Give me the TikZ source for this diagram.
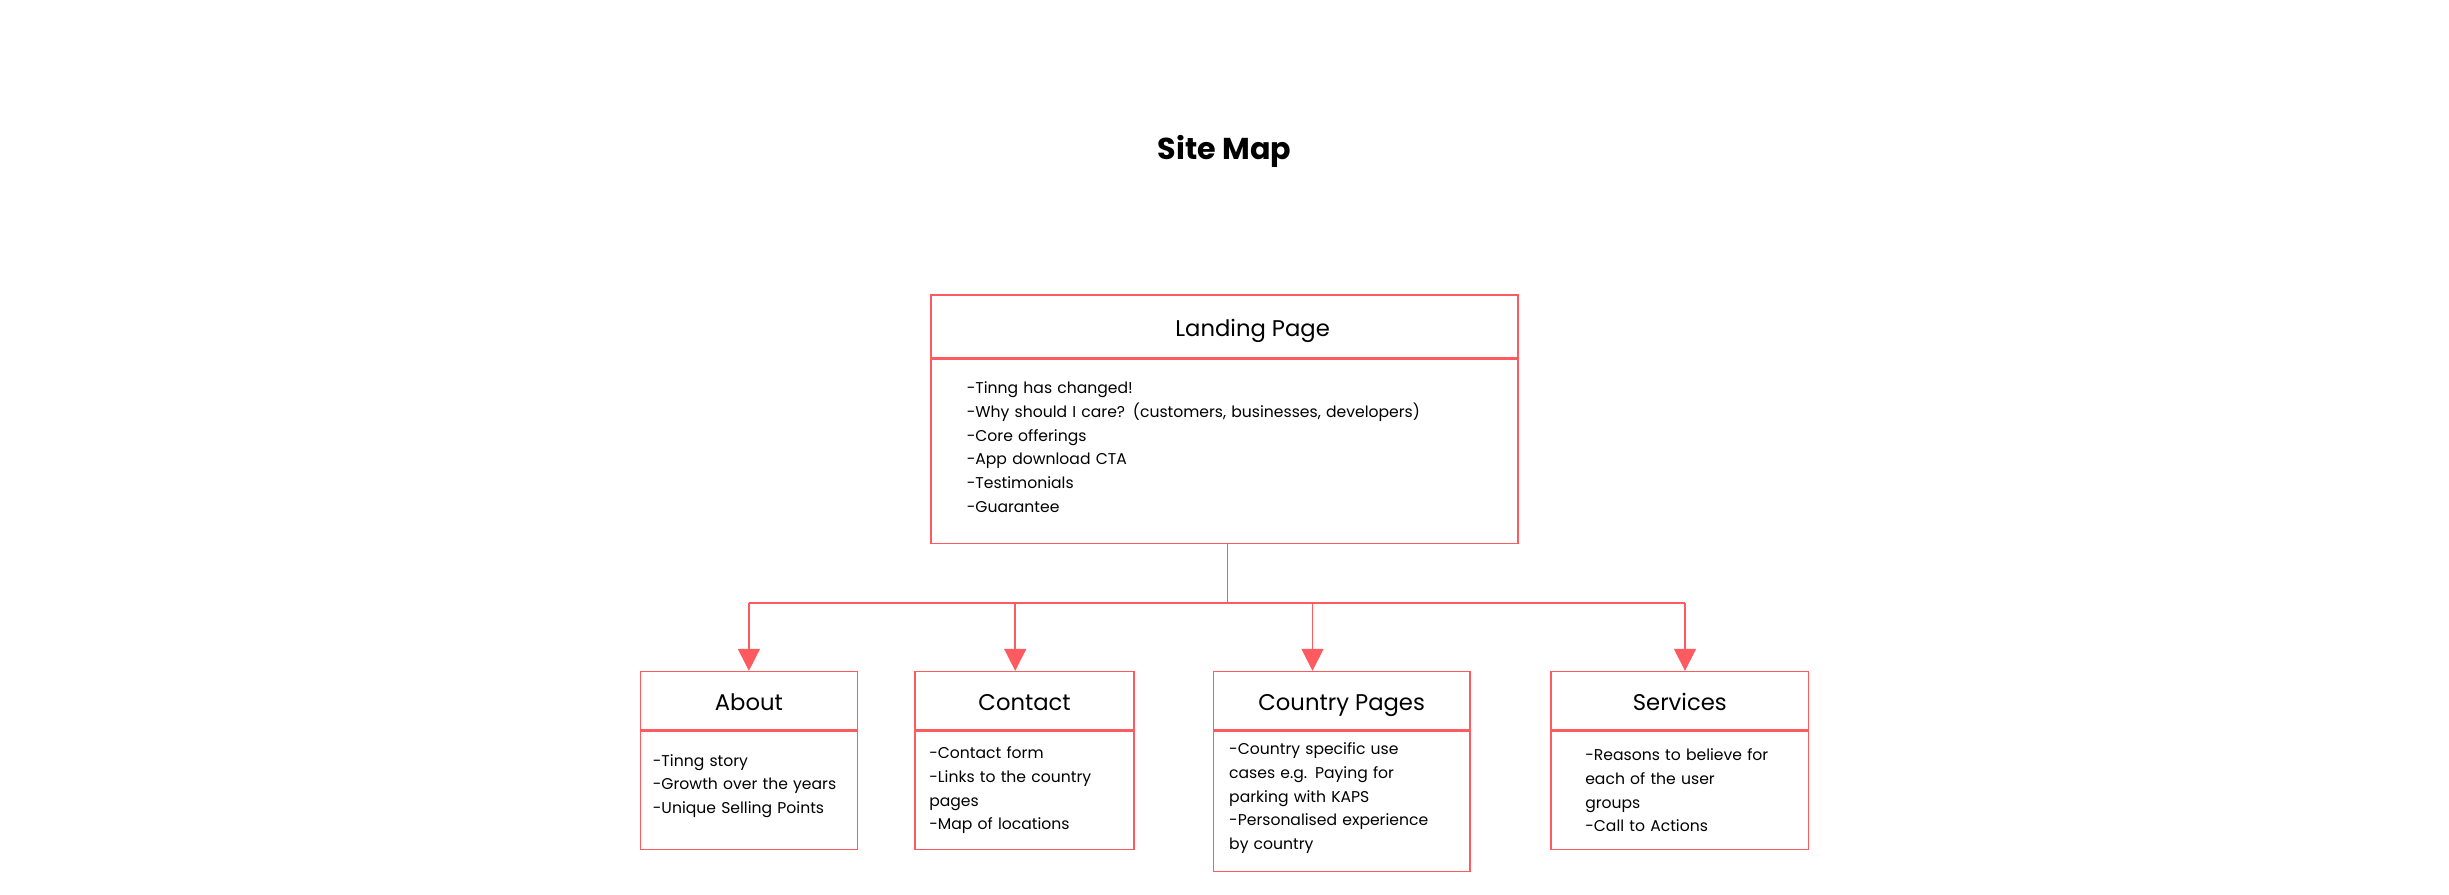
\documentclass[tikz,border=0pt]{standalone}
\usepackage{fontspec}
\setmainfont{Poppins}
\usetikzlibrary{positioning,arrows.meta}
\definecolor{mapred}{RGB}{255,90,95}
\tikzset{
  head/.style={draw=mapred,line width=0.75pt,minimum height=27.75pt,inner sep=0pt,
    text height=10pt,text depth=0pt,font=\fontsize{10.9}{12}\selectfont},
  body/.style={draw=mapred,line width=0.75pt,align=left,inner ysep=0pt,font=\fontsize{7.5}{11.4}\selectfont},
  link/.style={draw=mapred,line width=0.75pt},
  tip/.style={link,-{Triangle[length=10.5pt,width=10.5pt]}}
}

\begin{document}
\begin{tikzpicture}[x=0.75pt,y=-0.75pt]
  \useasboundingbox (0,0) rectangle (1568,572.4);
  \node[font=\fontsize{14.5}{16}\selectfont\bfseries] (title) at (784,97) {Site Map};

  % landing page
  \node[head,minimum width=282pt,minimum height=30pt] (lphead) at (784,209) {\hspace*{27pt}Landing Page};
  \node[body,below=0pt of lphead,minimum width=282pt,minimum height=88.5pt,text width=247.5pt,inner xsep=17.25pt] (lpbody)
    {-Tinng has changed!\\-Why should I care? (customers, businesses, developers)\\-Core offerings\\-App download CTA\\-Testimonials\\-Guarantee\vspace*{4pt}};

  % sub pages
  \node[head,minimum width=104.25pt] (abhead) at (479.5,448.5) {About};
  \node[body,below=0pt of abhead,minimum width=104.25pt,minimum height=57pt,text width=92.25pt,inner xsep=6pt] (abbody)
    {-Tinng story\\-Growth over the years\\-Unique Selling Points\vspace*{4pt}};

  \node[head,minimum width=105pt] (cohead) at (656,448.5) {Contact};
  \node[body,below=0pt of cohead,minimum width=105pt,minimum height=57pt,text width=91.5pt,inner xsep=6.75pt] (cobody)
    {-Contact form\\-Links to the country\\pages\\-Map of locations};

  \node[head,minimum width=123pt] (cphead) at (859,448.5) {Country Pages};
  \node[body,below=0pt of cphead,minimum width=123pt,minimum height=67.5pt,text width=108pt,inner xsep=7.5pt] (cpbody)
    {-Country specific use\\cases e.g. Paying for\\parking with KAPS\\-Personalised experience\\by country\vspace*{3pt}};

  \node[head,minimum width=123.75pt] (svhead) at (1075.5,448.5) {Services};
  \node[body,below=0pt of svhead,minimum width=123.75pt,minimum height=57pt,text width=90.75pt,inner xsep=16.5pt] (svbody)
    {-Reasons to believe for\\each of the user\\groups\\-Call to Actions};

  % connectors
  \coordinate (fork) at (786,386);
  \draw[link] ([xshift=1.5pt]lpbody.south) -- (fork);
  \draw[link,line width=1.1pt] (fork -| abhead.north) -- ([xshift=2.5pt]fork -| svhead.north);
  \draw[tip] (fork -| abhead.north) -- (abhead.north);
  \draw[tip] ([xshift=-4.5pt]fork -| cohead.north) -- ([xshift=-4.5pt]cohead.north);
  \draw[tip] ([xshift=-14pt]fork -| cphead.north) -- ([xshift=-14pt]cphead.north);
  \draw[tip] ([xshift=2.5pt]fork -| svhead.north) -- ([xshift=2.5pt]svhead.north);
\end{tikzpicture}
\end{document}
